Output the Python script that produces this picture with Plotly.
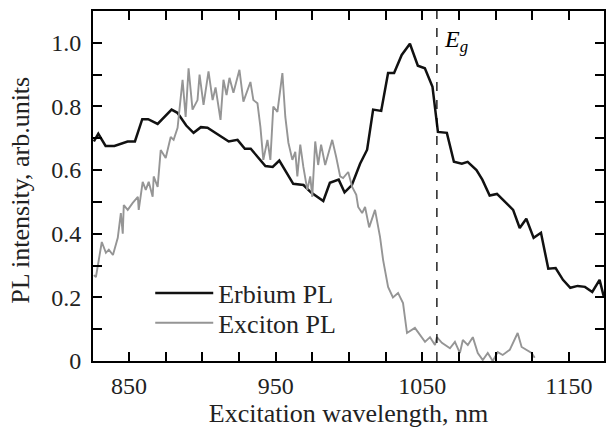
import plotly.graph_objects as go

# Erbium PL (solid black)
erbium_x = [826, 829, 834, 840, 849, 854, 859, 863, 869.5, 879, 883, 889, 894, 899, 903.5,
            909, 918, 924, 929, 933, 943, 948, 952.5, 962, 969, 974, 982.5, 987, 993, 997,
            1002, 1007.6, 1012.4, 1016.5, 1022, 1026.7, 1030.8, 1036, 1041.6, 1047, 1051.8,
            1057, 1060.7, 1066.8, 1071.6, 1077, 1081, 1087, 1091, 1096, 1101, 1112, 1116.5,
            1121, 1126, 1131, 1136, 1141, 1146, 1151, 1156, 1161, 1166, 1171, 1174]
erbium_y = [0.69, 0.714, 0.676, 0.676, 0.69, 0.69, 0.76, 0.76, 0.745, 0.79, 0.78, 0.74, 0.717,
            0.735, 0.733, 0.717, 0.69, 0.695, 0.667, 0.667, 0.613, 0.61, 0.63, 0.557, 0.553,
            0.53, 0.503, 0.56, 0.57, 0.53, 0.553, 0.62, 0.664, 0.79, 0.786, 0.905, 0.905,
            0.962, 0.997, 0.928, 0.92, 0.862, 0.72, 0.717, 0.626, 0.62, 0.626, 0.60, 0.57,
            0.52, 0.525, 0.475, 0.418, 0.447, 0.387, 0.403, 0.29, 0.292, 0.255, 0.23, 0.236,
            0.233, 0.217, 0.255, 0.2]

# Exciton PL (grey, noisy)
exciton_x = [826, 827.4, 828.7, 831.4, 834.2, 836.2, 839, 842.3, 844.4, 845.7, 846.4, 849.1,
             852.5, 856, 856.6, 859.3, 861.4, 863.4, 866.1, 866.8, 869.5, 871.6, 875, 878.4,
             880.4, 883.1, 886.5, 888.6, 890.6, 893.3, 896.7, 898.1, 900.8, 904.2, 907, 909,
             912.4, 914.4, 916.5, 918.5, 921.2, 923.3, 925.3, 928, 932.8, 934.8, 937.6, 939.6,
             941.6, 944.4, 946.4, 948.4, 951.2, 954.6, 956.6, 958.7, 961.4, 963.4, 964.8,
             966.8, 968.9, 971.6, 973.6, 975, 977, 979, 981, 983.8, 985.9, 988.6, 991.3, 994,
             996, 999.5, 1002.2, 1005, 1006.3, 1009, 1011, 1013.8, 1017.8, 1021.2, 1023.3,
             1026.7, 1030, 1033.5, 1036.9, 1039.6, 1045, 1048.4, 1051.9, 1055.3, 1058.7, 1060,
             1063.4, 1068.9, 1072.3, 1075.7, 1077.7, 1081.1, 1084.5, 1087.9, 1091.3, 1094.7,
             1098.1, 1101.5, 1104.9, 1109.7, 1113, 1115.1, 1117.8, 1121.2, 1124.6, 1126.7]
exciton_y = [0.27, 0.264, 0.30, 0.374, 0.34, 0.35, 0.333, 0.387, 0.465, 0.40, 0.49, 0.475,
             0.497, 0.516, 0.475, 0.563, 0.538, 0.563, 0.516, 0.58, 0.547, 0.663, 0.638, 0.704,
             0.695, 0.733, 0.884, 0.767, 0.92, 0.79, 0.82, 0.9, 0.805, 0.91, 0.82, 0.86, 0.758,
             0.884, 0.836, 0.89, 0.843, 0.877, 0.915, 0.815, 0.877, 0.82, 0.81, 0.736, 0.632,
             0.695, 0.632, 0.80, 0.783, 0.905, 0.767, 0.686, 0.632, 0.657, 0.58, 0.68, 0.61,
             0.538, 0.58, 0.516, 0.69, 0.616, 0.68, 0.616, 0.654, 0.695, 0.641, 0.58, 0.575,
             0.594, 0.547, 0.522, 0.484, 0.465, 0.484, 0.42, 0.475, 0.39, 0.318, 0.233, 0.20,
             0.214, 0.182, 0.088, 0.104, 0.082, 0.06, 0.075, 0.05, 0.075, 0.057, 0.04, 0.06,
             0.025, 0.066, 0.05, 0.075, 0.025, 0.003, 0.025, 0.0, 0.028, 0.019, 0.035, 0.066,
             0.088, 0.044, 0.035, 0.025, 0.01]

eg_wavelength = 1060
y_tick_vals = [0, 0.2, 0.4, 0.6, 0.8, 1.0]
y_tick_text = ["0", "0.2", "0.4", "0.6", "0.8", "1.0"]
x_tick_vals = [850, 950, 1050, 1150]
x_tick_text = ["850", "950", "1050", "1150"]

FONT = "Liberation Serif, Times New Roman, serif"
TXT = "#222222"

fig = go.Figure()
fig.add_trace(go.Scatter(x=erbium_x, y=erbium_y, mode="lines", name="Erbium PL",
                         legend="legend",
                         line=dict(color="#111111", width=2.5)))
fig.add_trace(go.Scatter(x=exciton_x, y=exciton_y, mode="lines", name="Exciton PL",
                         legend="legend2",
                         line=dict(color="#959595", width=1.9)))

fig.add_shape(type="line", x0=eg_wavelength, x1=eg_wavelength, y0=0, y1=1.1,
              xref="x", yref="y", line=dict(color="black", width=1.3, dash="dash"))
fig.add_annotation(x=eg_wavelength, y=1.005, xref="x", yref="y",
                   text="<i>E</i><sub><i>g</i></sub>", showarrow=False,
                   xanchor="left", yanchor="middle", xshift=5,
                   font=dict(family=FONT, size=24, color="black"))

# y-axis title placed as a rotated annotation in the left margin
fig.add_annotation(x=-0.141, y=0.489, xref="paper", yref="paper",
                   text="PL intensity, arb.units", showarrow=False, textangle=-90,
                   xanchor="center", yanchor="middle",
                   font=dict(family=FONT, size=26, color=TXT))

legend_common = dict(x=0.112, xanchor="left", yanchor="middle",
                     bgcolor="rgba(0,0,0,0)", font=dict(family=FONT, size=26, color=TXT),
                     itemwidth=58)

fig.update_layout(
    width=606, height=431,
    margin=dict(l=93, r=2, t=11, b=70, autoexpand=False),
    paper_bgcolor="white", plot_bgcolor="white",
    font=dict(family=FONT, size=24, color=TXT),
    showlegend=True,
    legend=dict(y=0.194, **legend_common),
    legend2=dict(y=0.109, **legend_common),
    xaxis=dict(range=[825.4, 1174], tickvals=x_tick_vals, ticktext=x_tick_text,
               ticks="inside", ticklen=9, tickwidth=1.5, tickcolor="black",
               minor=dict(dtick=25, tick0=850, ticks="inside", ticklen=9, tickwidth=1.5, tickcolor="black"),
               showline=True, linecolor="black", linewidth=2, mirror="ticks",
               showgrid=False, zeroline=False, automargin=False, ticklabelstandoff=2,
               title=dict(text="Excitation wavelength, nm", font=dict(size=26), standoff=3),
               tickfont=dict(size=24)),
    yaxis=dict(range=[0, 1.1], tickvals=y_tick_vals, ticktext=y_tick_text,
               ticks="inside", ticklen=9, tickwidth=1.5, tickcolor="black",
               minor=dict(dtick=0.1, tick0=0, ticks="inside", ticklen=9, tickwidth=1.5, tickcolor="black"),
               showline=True, linecolor="black", linewidth=2, mirror="ticks",
               showgrid=False, zeroline=False, automargin=False, ticklabelstandoff=5,
               tickfont=dict(size=24)),
)

fig.write_html("out.html", config={"displayModeBar": False},
               post_script="document.body.style.margin='0';")
